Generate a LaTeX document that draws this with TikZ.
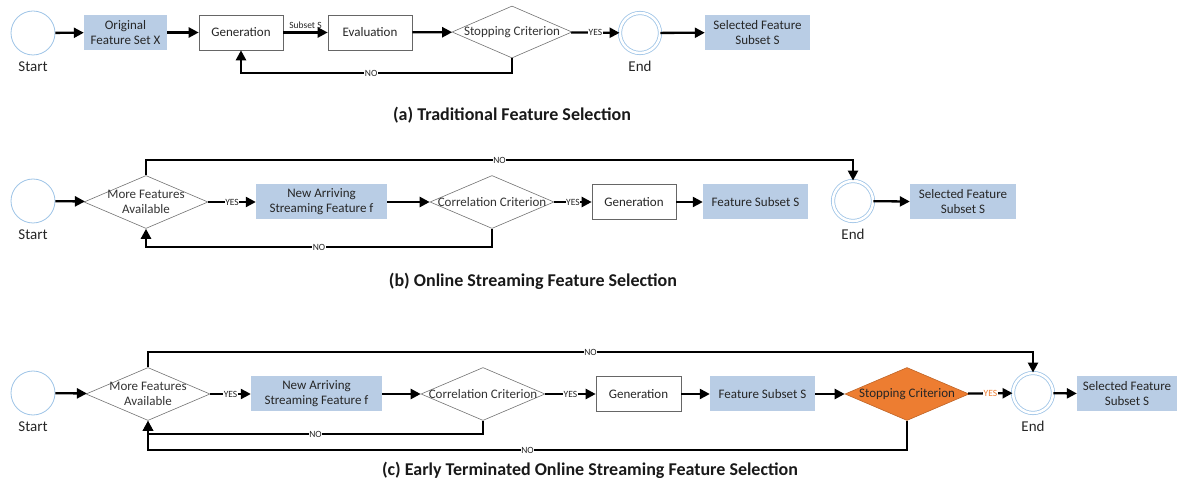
\documentclass[tikz,border=0pt]{standalone}
\usepackage{fontspec}
\setmainfont{Carlito}
\usetikzlibrary{shapes.geometric,arrows.meta}
\definecolor{boxblue}{HTML}{B9CDE5}
\definecolor{ringblue}{HTML}{9DC3E6}
\definecolor{stoporange}{HTML}{ED7D31}

\begin{document}
\begin{tikzpicture}[x=1pt, y=-1pt,
  flow/.style={line width=2.3pt, -{Triangle[length=10pt,width=10pt]}},
  startnode/.style={circle, draw=ringblue, line width=0.8pt, minimum size=44pt, inner sep=0pt,
    label={[font=\fontsize{15}{17}\selectfont, text=black!85, label distance=3pt]below:#1}},
  endnode/.style={circle, draw=ringblue, line width=0.8pt, double=white, double distance=2.5pt,
    minimum size=40pt, inner sep=0pt,
    label={[font=\fontsize{15}{17}\selectfont, text=black!85, label distance=4pt]below:#1}},
  bluebox/.style={rectangle, fill=boxblue, minimum height=35pt, minimum width=#1, inner sep=1pt,
    align=center, font=\fontsize{13}{15}\selectfont, text=black!85},
  whitebox/.style={rectangle, draw=black!60, line width=0.6pt, fill=white, minimum height=35pt,
    minimum width=#1, inner sep=1pt, font=\fontsize{13}{15}\selectfont, text=black!85},
  decision/.style={diamond, draw=black!55, line width=0.6pt, fill=white, aspect=2.35,
    inner xsep=-14pt, inner ysep=-6pt, minimum width=124pt, minimum height=53pt,
    align=center, font=\fontsize{13}{15}\selectfont, text=black!80},
  tag/.style={font=\fontsize{9.5}{10}\selectfont, fill=white, inner sep=0.6pt, text=black!85},
  caption/.style={font=\bfseries\fontsize{18}{21}\selectfont, text=black!90},
]
\useasboundingbox (0,0) rectangle (1179,486);

% (a) traditional
\node[startnode=Start] (start1) at (33,33) {};
\node[bluebox=83pt] (orig1) at (125.5,32.5) {Original\\Feature Set X};
\node[whitebox=84pt] (gen1) at (241,32.5) {Generation};
\node[whitebox=84pt] (eval1) at (370,32.5) {Evaluation};
\node[decision, minimum width=120pt, minimum height=52pt] (stop1) at (512,32) {Stopping Criterion};
\node[endnode=End] (end1) at (640,33) {};
\node[bluebox=105pt] (sel1) at (757.5,32.5) {Selected Feature\\Subset S};
\node[caption] (capa) at (512,115) {(a) Traditional Feature Selection};

\draw[flow] (start1) -- (orig1);
\draw[flow] (orig1) -- (gen1);
\draw[flow] (gen1) -- node[tag, fill=none, above=2.5pt] {Subset S} (eval1);
\draw[flow] (eval1) -- (stop1);
\draw[flow] (stop1) -- node[tag] {YES} (end1);
\draw[flow] (end1) -- (sel1);
\draw[flow] (stop1.south) -- (512,73) -| node[tag, pos=0.26] {NO} (gen1.south);

% (b) online streaming
\node[startnode=Start] (start2) at (33,201) {};
\node[decision] (more2) at (146,202) {More Features\\Available};
\node[bluebox=131pt] (new2) at (321.5,202) {New Arriving\\Streaming Feature f};
\node[decision] (corr2) at (492,202) {Correlation Criterion};
\node[whitebox=84pt] (gen2) at (634,202) {Generation};
\node[bluebox=105pt] (fs2) at (755.5,202) {Feature Subset S};
\node[endnode=End] (end2) at (853,201) {};
\node[bluebox=106pt] (sel2) at (963,202) {Selected Feature\\Subset S};
\node[caption] (capb) at (533,281) {(b) Online Streaming Feature Selection};

\draw[flow] (start2) -- (more2);
\draw[flow] (more2) -- node[tag] {YES} (new2);
\draw[flow] (new2) -- (corr2);
\draw[flow] (corr2) -- node[tag] {YES} (gen2);
\draw[flow] (gen2) -- (fs2);
\draw[flow] (end2) -- (sel2);
\draw[flow] (more2.north) -- (146,160) -| node[tag, pos=0.25] {NO} (end2.north);
\draw[flow] (corr2.south) -- (492,247) -| node[tag, pos=0.25] {NO} (more2.south);

% (c) early terminated
\node[startnode=Start] (start3) at (33,393) {};
\node[decision] (more3) at (148,394) {More Features\\Available};
\node[bluebox=131pt] (new3) at (316.5,394) {New Arriving\\Streaming Feature f};
\node[decision] (corr3) at (483,394) {Correlation Criterion};
\node[whitebox=85pt] (gen3) at (638.5,394) {Generation};
\node[bluebox=105pt] (fs3) at (762.5,394) {Feature Subset S};
\node[decision, fill=stoporange, draw=stoporange!80!black, text=black!85] (stop3) at (907,394) {Stopping Criterion};
\node[endnode=End] (end3) at (1033,393) {};
\node[bluebox=100pt] (sel3) at (1127,394) {Selected Feature\\Subset S};
\node[caption] (capc) at (590,470) {(c) Early Terminated Online Streaming Feature Selection};

\draw[flow] (start3) -- (more3);
\draw[flow] (more3) -- node[tag] {YES} (new3);
\draw[flow] (new3) -- (corr3);
\draw[flow] (corr3) -- node[tag] {YES} (gen3);
\draw[flow] (gen3) -- (fs3);
\draw[flow] (fs3) -- (stop3);
\draw[flow] (stop3) -- node[tag, text=stoporange] {YES} (end3);
\draw[flow] (end3) -- (sel3);
\draw[flow] (more3.north) -- (148,352) -| node[tag, pos=0.25] {NO} (end3.north);
\draw[flow] (corr3.south) -- (483,434) -| node[tag, pos=0.25] {NO} (more3.south);
\draw[flow] (stop3.south) -- (907,450) -| node[tag, pos=0.25] {NO} (more3.south);
\end{tikzpicture}
\end{document}
